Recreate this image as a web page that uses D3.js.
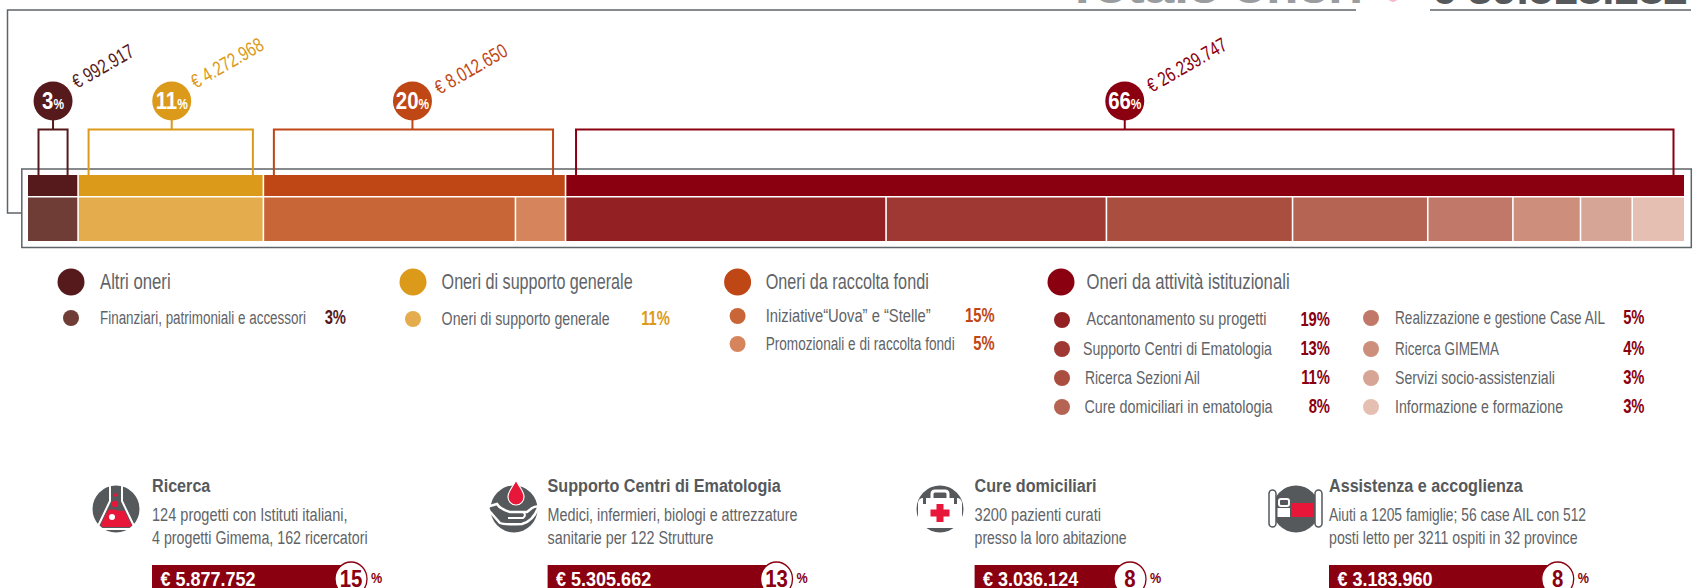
<!DOCTYPE html>
<html>
<head>
<meta charset="utf-8">
<script src="https://cdn.jsdelivr.net/npm/d3@7"></script>
<style>
  html, body { margin: 0; padding: 0; background: #fff; overflow: hidden; }
  text { font-family: "Liberation Sans Narrow", "Liberation Sans", sans-serif; }
</style>
</head>
<body>
<script>
// oneri groups
var groupNames = ['Altri oneri', 'Oneri di supporto generale', 'Oneri da raccolta fondi', 'Oneri da attività istituzionali'];
var groupAmounts = ['€ 992.917', '€ 4.272.968', '€ 8.012.650', '€ 26.239.747'];
var groupPct = [3, 11, 20, 66];
var groupColors = ['#571a1c', '#dc9a1a', '#bf4716', '#8a0010'];

// bar items, itemShare is the width
var itemNames = ['Finanziari, patrimoniali e accessori', 'Oneri di supporto generale', 'Iniziative“Uova” e “Stelle”', 'Promozionali e di raccolta fondi',
  'Accantonamento su progetti', 'Supporto Centri di Ematologia', 'Ricerca Sezioni Ail', 'Cure domiciliari in ematologia',
  'Realizzazione e gestione Case AIL', 'Ricerca GIMEMA', 'Servizi socio-assistenziali', 'Informazione e formazione'];
var itemGroup = [0, 1, 2, 2, 3, 3, 3, 3, 3, 3, 3, 3];
var itemShare = [3, 11.1, 15.1, 3, 19.2, 13.2, 11.15, 8.1, 5.1, 4.05, 3.1, 3.1];
var itemPct = [3, 11, 15, 5, 19, 13, 11, 8, 5, 4, 3, 3];
var itemColors = ['#6f3c36', '#e4ac4c', '#c96637', '#d6845c', '#932023', '#9f3832', '#aa4e40', '#b56353', '#c27869', '#cd8e7c', '#d7a596', '#e4bfb2'];

// cards at the bottom
var cardTitles = ['Ricerca', 'Supporto Centri di Ematologia', 'Cure domiciliari', 'Assistenza e accoglienza'];
var cardLine1 = ['124 progetti con Istituti italiani,', 'Medici, infermieri, biologi e attrezzature', '3200 pazienti curati', 'Aiuti a 1205 famiglie; 56 case AIL con 512'];
var cardLine2 = ['4 progetti Gimema, 162 ricercatori', 'sanitarie per 122 Strutture', 'presso la loro abitazione', 'posti letto per 3211 ospiti in 32 province'];
var cardAmounts = ['€ 5.877.752', '€ 5.305.662', '€ 3.036.124', '€ 3.183.960'];
var cardPct = [15, 13, 8, 8];

var totalLabel = 'Totale oneri';
var totalAmount = '€ 39.518.282';

var grey = '#5f6468', textGrey = '#55595c', red = '#8a0010', bright = '#e8173a';

function flask(g) {
  g.append('path').attr('d', 'M-8,1L-15,15Q-16,18 -13,18H13Q16,18 15,15L8,1C3,4 -3,-2 -8,1Z').style('fill', bright);
  g.append('path').attr('d', 'M-8,-25H8M-6,-25V-8L-17,15Q-19,20 -14,20H14Q19,20 17,15L6,-8V-25')
   .style('fill', 'none').style('stroke', '#fff').style('stroke-width', 2);
  g.append('circle').attr('cx', -0.5).attr('cy', -14).attr('r', 1.8).style('fill', bright);
  g.append('circle').attr('cx', -1).attr('cy', -5).attr('r', 3.2).style('fill', bright);
  g.append('circle').attr('cx', -4).attr('cy', 8).attr('r', 3).style('fill', '#fff');
}
function hand(g) {
  g.append('path').attr('d', 'M2,-29C5,-22 10,-18 10,-12A8,8 0 0 1 -6,-12C-6,-18 -1,-22 2,-29Z')
   .style('fill', bright).style('stroke', '#fff').style('stroke-width', 1.2);
  g.append('path').attr('d', 'M-24,-3Q-28,-1 -22,5L-14,14Q-10,16 8,15Q19,12 24,-1Q24,-4 18,-1L13,3H-4Q-14,0 -17,-5Z')
   .style('fill', textGrey).style('stroke', '#fff').style('stroke-width', 2.5);
  g.append('path').attr('d', 'M-4,3H9Q13,6 9,9H-6').style('fill', 'none').style('stroke', '#fff').style('stroke-width', 2);
}
function suitcase(g) {
  g.append('path').attr('d', 'M-8,-11V-15Q-8,-18 -5,-18H5Q8,-18 8,-15V-11').style('fill', 'none').style('stroke', '#fff').style('stroke-width', 3);
  g.append('rect').attr('x', -22).attr('y', -11).attr('width', 44).attr('height', 30).attr('rx', 5).style('fill', '#fff');
  g.append('rect').attr('x', -17).attr('y', -12).attr('width', 3).attr('height', 7).style('fill', textGrey);
  g.append('rect').attr('x', 14).attr('y', -12).attr('width', 3).attr('height', 7).style('fill', textGrey);
  g.append('path').attr('d', 'M-3.5,-5H3.5V0.5H9.5V7.5H3.5V13H-3.5V7.5H-9.5V0.5H-3.5Z').style('fill', bright);
}
function bed(g) {
  [-27, 19].forEach(function(px) {
    g.append('rect').attr('x', px).attr('y', -19).attr('width', 7).attr('height', 37).attr('rx', 3.5)
     .style('fill', '#fff').style('stroke', textGrey).style('stroke-width', 1.5);
  });
  g.append('rect').attr('x', -17).attr('y', -10).attr('width', 10).attr('height', 7).attr('rx', 2).style('fill', 'none').style('stroke', '#fff').style('stroke-width', 2);
  g.append('rect').attr('x', -18.5).attr('y', -1).attr('width', 12.5).attr('height', 9).style('fill', '#fff');
  g.append('rect').attr('x', -5).attr('y', -6).attr('width', 23).attr('height', 14).style('fill', bright);
}
var iconDrawers = [flask, hand, suitcase, bed];

var svg = d3.select('body').append('svg')
            .attr('width', 1702)
            .attr('height', 588)
            .style('display', 'block');

function label(x, y, str, size, color, opts) {
  opts = opts || {};
  var base = 'translate(' + x + ',' + y + ')' + (opts.rotate ? ' rotate(' + opts.rotate + ')' : '');
  var t = svg.append('text')
    .attr('transform', base + ' scale(' + (opts.sx || 0.9) + ',1)')
    .attr('text-anchor', opts.anchor || 'start')
    .style('font-size', size + 'px')
    .style('font-weight', opts.weight || 'normal')
    .style('fill', color)
    .text(str);
  // squeeze to the width measured on the picture
  if (opts.width) t.attr('transform', base + ' scale(' + (opts.width / t.node().getComputedTextLength()) + ',1)');
  return t;
}

// frame behind the bar
svg.append('path')
   .attr('d', 'M1356,10H7.5V213H22')
   .style('fill', 'none').style('stroke', grey).style('stroke-width', 1.5);
svg.append('path')
   .attr('d', 'M1430,10H1691')
   .style('fill', 'none').style('stroke', grey).style('stroke-width', 1.5);
svg.append('rect')
   .attr('x', 21.8).attr('y', 169).attr('width', 1669.5).attr('height', 78.5)
   .style('fill', '#fff').style('stroke', grey).style('stroke-width', 1.5);

// heading, cut by the top of the page
label(1066, 3, totalLabel, 40, '#9a9da0', {weight: 'bold', sx: 1.33});
label(1431, 4, totalAmount, 40, textGrey, {weight: 'bold', sx: 1.1});
svg.append('circle').attr('cx', 1393).attr('cy', -3).attr('r', 5).style('fill', '#f7b9c6');

// stacked bar
var total = d3.sum(itemShare);
var x = d3.scaleLinear().domain([0, total]).range([28, 1684]);

var cum = 0;
var items = itemNames.map(function(n, i) {
  var d = {name: n, group: itemGroup[i], start: cum, end: cum + itemShare[i], color: itemColors[i]};
  cum += itemShare[i];
  return d;
});
var groups = groupNames.map(function(n, g) {
  var own = items.filter(function(d) { return d.group === g; });
  return {start: own[0].start, end: own[own.length - 1].end};
});

svg.selectAll('rect.top').data(groups).enter().append('rect')
   .attr('class', 'top')
   .attr('x', function(d) { return x(d.start) + (d.start ? 0.8 : 0); })
   .attr('y', 175)
   .attr('width', function(d) { return x(d.end) - x(d.start) - (d.start ? 0.8 : 0) - (d.end < total ? 0.8 : 0); })
   .attr('height', 21)
   .style('fill', function(d, i) { return groupColors[i]; });

svg.selectAll('rect.low').data(items).enter().append('rect')
   .attr('class', 'low')
   .attr('x', function(d) { return x(d.start) + (d.start ? 0.8 : 0); })
   .attr('y', 197.5)
   .attr('width', function(d) { return x(d.end) - x(d.start) - (d.start ? 0.8 : 0) - (d.end < total ? 0.8 : 0); })
   .attr('height', 43.5)
   .style('fill', function(d) { return d.color; });

// brackets and bubbles
var amountOffset = [[24, -12], [24, -12], [27, -6], [27, -8]];
var bubbleShift = [0, 1, -2, 0];
groups.forEach(function(d, i) {
  var a = x(d.start) + 10.5, b = x(d.end) - 10.5, c = (x(d.start) + x(d.end)) / 2 + bubbleShift[i];
  if (i === 2) b -= 2;
  svg.append('path')
     .attr('d', 'M' + a + ',175V129.5H' + b + 'V175M' + c + ',129.5V118')
     .style('fill', 'none').style('stroke', groupColors[i]).style('stroke-width', 2);
  svg.append('ellipse').attr('cx', c).attr('cy', 101).attr('rx', 19.5).attr('ry', 19.5).style('fill', groupColors[i]);
  var t = label(c, 108.5, groupPct[i], 24, '#fff', {anchor: 'middle', weight: 'bold', sx: 0.85});
  t.append('tspan').style('font-size', '14px').style('font-weight', 'bold').text('%');
  label(c + amountOffset[i][0], 101 + amountOffset[i][1], groupAmounts[i], 20, groupColors[i], {rotate: -30, sx: 0.76});
});

// legend
var headX = [71, 413, 737.6, 1061];
var headTextX = [100, 441.6, 765.7, 1086.5];
var headTextW = [70.6, 191, 163, 203];
groupNames.forEach(function(n, i) {
  svg.append('circle').attr('cx', headX[i]).attr('cy', 282).attr('r', 13.5).style('fill', groupColors[i]);
  label(headTextX[i], 289, n, 22, grey, {width: headTextW[i]});
});

var itemDotX = [71, 413, 737.6, 737.6, 1062, 1062, 1062, 1062, 1371, 1371, 1371, 1371];
var itemDotY = [318, 319, 316, 344, 320, 349, 378, 407, 318, 349, 378, 407];
var itemTextX = [100, 441.6, 765.7, 765.7, 1086.5, 1083, 1085, 1084.5, 1395, 1395, 1395, 1395];
var itemTextW = [206, 168, 165, 189, 180, 189, 115, 188, 210, 104, 160, 168];
var itemPctX = [346, 670, 994.6, 994.6, 1330, 1330, 1330, 1330, 1644.5, 1644.5, 1644.5, 1644.5];
items.forEach(function(d, i) {
  svg.append('circle').attr('cx', itemDotX[i]).attr('cy', itemDotY[i]).attr('r', 8).style('fill', d.color);
  label(itemTextX[i], itemDotY[i] + (i === 4 ? 5 : 6), d.name, 19, grey, {width: itemTextW[i]});
  label(itemPctX[i], itemDotY[i] + 6, itemPct[i] + '%', 20, groupColors[d.group], {anchor: 'end', weight: 'bold', sx: 0.74});
});

// cards
var cardX = [152, 547.6, 974.6, 1329];
var cardCircleX = [351, 776.5, 1130, 1557.7];
var cardLine1W = [195.6, 250, 126.4, 257];
var cardLine2W = [215.5, 165.7, 152, 248.5];
var iconX = [116, 514, 940, 1296];
var iconY = [509, 509, 509, 509];
cardTitles.forEach(function(n, i) {
  label(cardX[i], 491.5, n, 19, textGrey, {weight: 'bold', sx: 0.85});
  label(cardX[i], 521, cardLine1[i], 19, grey, {width: cardLine1W[i]});
  label(cardX[i], 544, cardLine2[i], 19, grey, {width: cardLine2W[i]});
  svg.append('rect').attr('x', cardX[i]).attr('y', 565).attr('width', cardCircleX[i] - cardX[i]).attr('height', 23).style('fill', red);
  svg.append('ellipse').attr('cx', cardCircleX[i]).attr('cy', 579).attr('rx', 16).attr('ry', 17)
     .style('fill', '#fff').style('stroke', red).style('stroke-width', 1.3);
  label(cardX[i] + 8.5, 586, cardAmounts[i], 20, '#fff', {weight: 'bold', sx: 0.9});
  label(cardCircleX[i], 587, cardPct[i], 24, red, {anchor: 'middle', weight: 'bold', sx: 0.85});
  label(cardCircleX[i] + 20, 583, '%', 14, red, {weight: 'bold', sx: 0.9});
  var g = svg.append('g').attr('transform', 'translate(' + iconX[i] + ',' + iconY[i] + ')');
  g.append('circle').attr('r', 23.5).style('fill', textGrey);
  iconDrawers[i](g);
});
</script>
</body>
</html>
